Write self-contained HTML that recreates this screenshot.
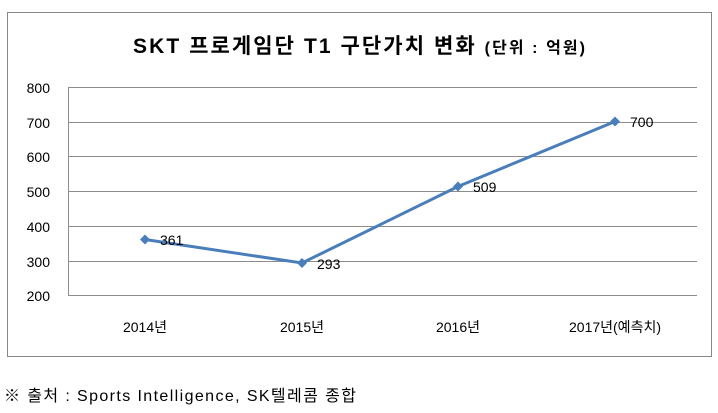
<!DOCTYPE html>
<html><head><meta charset="utf-8"><style>
body{margin:0;width:718px;height:408px;background:#fff;overflow:hidden}
svg text{font-family:"Liberation Sans","Noto Sans CJK KR",sans-serif}
</style></head><body>
<svg width="718" height="408" xmlns="http://www.w3.org/2000/svg">
<rect x="7.5" y="12.5" width="704" height="344" fill="#fff" stroke="#888" stroke-width="1"/>
<text x="133" y="53" font-size="21" font-weight="bold" fill="#000" textLength="452" lengthAdjust="spacing">SKT 프로게임단 T1 구단가치 변화 <tspan font-size="16">(단위 : 억원)</tspan></text>
<g stroke="#8c8c8c" stroke-width="1">
<line x1="68" y1="87.5" x2="697" y2="87.5"/>
<line x1="68" y1="122.5" x2="697" y2="122.5"/>
<line x1="68" y1="156.5" x2="697" y2="156.5"/>
<line x1="68" y1="191.5" x2="697" y2="191.5"/>
<line x1="68" y1="226.5" x2="697" y2="226.5"/>
<line x1="68" y1="261.5" x2="697" y2="261.5"/>
<line x1="68" y1="295.5" x2="697" y2="295.5"/>
<line x1="68.5" y1="87" x2="68.5" y2="296"/>
</g>
<g font-size="14" fill="#000" text-anchor="end">
<text x="50" y="93">800</text><text x="50" y="128">700</text><text x="50" y="162">600</text>
<text x="50" y="197">500</text><text x="50" y="232">400</text><text x="50" y="267">300</text><text x="50" y="301">200</text>
</g>
<g font-size="14" fill="#000" text-anchor="middle">
<text x="145" y="332">2014년</text><text x="302" y="332">2015년</text><text x="458" y="332">2016년</text><text x="615" y="332">2017년(예측치)</text>
</g>
<polyline points="145,239.5 302,263 458,186.5 615,121.5" fill="none" stroke="#4a7ebb" stroke-width="3"/>
<g fill="#4a7ebb">
<path d="M145,234.5 l5,5 l-5,5 l-5,-5z"/><path d="M302,258 l5,5 l-5,5 l-5,-5z"/>
<path d="M458,181.5 l5,5 l-5,5 l-5,-5z"/><path d="M615,116.5 l5,5 l-5,5 l-5,-5z"/>
</g>
<g font-size="14" fill="#000">
<text x="160" y="245">361</text><text x="317" y="269">293</text><text x="473" y="192">509</text><text x="630" y="127">700</text>
</g>
<text x="4" y="401" font-size="16" fill="#000" textLength="352" lengthAdjust="spacing">※ 출처 : Sports Intelligence, SK텔레콤 종합</text>
</svg>
</body></html>
